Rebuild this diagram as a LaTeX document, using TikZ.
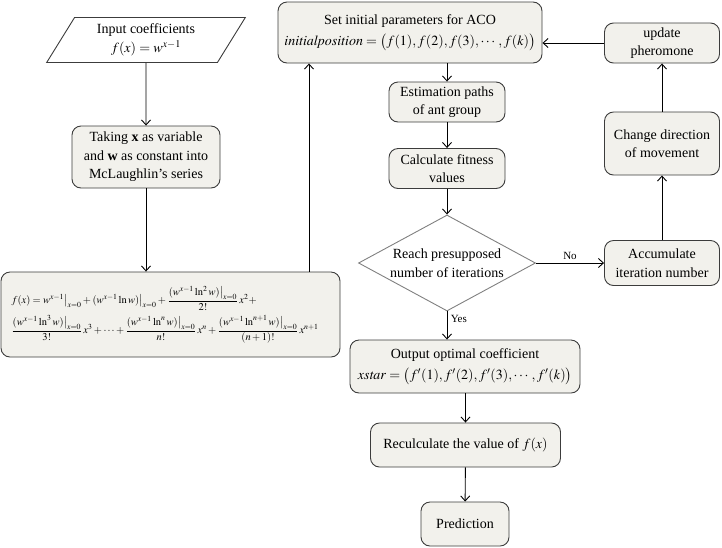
\documentclass[tikz,border=0pt]{standalone}
\usepackage{amsmath,amssymb}
\usepackage{mathptmx}
\usepackage{fontspec}
\setmainfont{Liberation Serif}
\usetikzlibrary{arrows.meta, shapes.geometric}
\definecolor{boxfill}{RGB}{242,241,236}
\definecolor{boxline}{RGB}{60,60,60}
\tikzstyle{block} = [rectangle, draw=boxline, fill=boxfill, line width=0.9pt,
    rounded corners=9pt, align=center, inner sep=2pt,
    font=\fontsize{14}{18.5}\selectfont]
\tikzstyle{decision} = [diamond, draw=gray, fill=white, line width=0.9pt, inner sep=0pt]

\begin{document}
\begin{tikzpicture}[
x=1pt, y=-1pt,
line/.style = {draw, line width=0.9pt, -{Straight Barb[length=5pt,width=9pt]}},
lab/.style = {font=\fontsize{11}{13}\selectfont}
                        ]
\useasboundingbox (0,0) rectangle (722,547);
\node (input) [trapezium, trapezium left angle=60, trapezium right angle=120,
  trapezium stretches=true, draw=boxline, fill=white, line width=0.9pt,
  minimum width=199pt, minimum height=45pt, inner sep=1pt, align=center,
  font=\fontsize{14}{18.5}\selectfont] at (146,40)
  {Input coefficients\\$f(x)=w^{x-1}$};
\node (taking) [block, minimum width=148pt, minimum height=62pt] at (146,157)
  {Taking \textbf{x} as variable\\and \textbf{w} as constant into\\McLaughlin's series};
\node (series) [block, minimum width=339pt, minimum height=85pt, align=left,
  text width=318pt, font=\fontsize{10.5}{13}\selectfont] at (170.5,314.5)
  {$f(x)=w^{x-1}\big|_{x=0}+(w^{x-1}\ln w)\big|_{x=0}+\dfrac{(w^{x-1}\ln^2 w)\big|_{x=0}}{2!}\,x^2+$\\[4pt]
   $\dfrac{(w^{x-1}\ln^3 w)\big|_{x=0}}{3!}\,x^3+\cdots+\dfrac{(w^{x-1}\ln^n w)\big|_{x=0}}{n!}\,x^n+\dfrac{(w^{x-1}\ln^{n+1} w)\big|_{x=0}}{(n+1)!}\,x^{n+1}$};
\node (setp) [block, minimum width=264pt, minimum height=61pt] at (410,32.5)
  {Set initial parameters for ACO\\[3pt]$\mathit{initialposition}=\bigl(f(1),f(2),f(3),\cdots,f(k)\bigr)$};
\node (update) [block, minimum width=115pt, minimum height=40pt] at (662,43)
  {update\\pheromone};
\node (est) [block, minimum width=116pt, minimum height=40pt] at (447,102)
  {Estimation paths\\of ant group};
\node (calc) [block, minimum width=116pt, minimum height=40pt] at (447,168.5)
  {Calculate fitness\\values};
\node (change) [block, minimum width=115pt, minimum height=63pt] at (662,143.5)
  {Change direction\\of movement};
\node (accum) [block, minimum width=115pt, minimum height=45pt] at (662,263)
  {Accumulate\\iteration number};
\node (reach) [decision, minimum width=177pt, minimum height=96pt,
  label={[align=center, font=\fontsize{14}{18.5}\selectfont]center:Reach presupposed\\number of iterations}]
  at (447,263) {};
\node (output) [block, minimum width=230pt, minimum height=53pt] at (465,366.5)
  {Output optimal coefficient\\[3pt]$\mathit{xstar}=\bigl(f'(1),f'(2),f'(3),\cdots,f'(k)\bigr)$};
\node (recalc) [block, minimum width=190pt, minimum height=44pt] at (465.5,445)
  {Reculculate the value of $f(x)$};
\node (predict) [block, minimum width=88pt, minimum height=44pt] at (465,524)
  {Prediction};
\coordinate (loopx) at (309,0);

\draw [line] (input) -- (taking);
\draw [line] (taking.south) -- (taking.south |- series.north);
\draw [line] (series.north -| loopx) -- (setp.south -| loopx);
\draw [line] (update.west) -- (update.west -| setp.east);
\draw [line] (est |- setp.south) -- (est.north);
\draw [line] (est) -- (calc);
\draw [line] (calc) -- (reach);
\draw [line] (reach) -- node[lab, above] {No} (accum);
\draw [line] (accum) -- (change);
\draw [line] (change) -- (update);
\draw [line] (reach.south) -- node[lab, right, pos=0.25] {Yes} (reach.south |- output.north);
\draw [line] (output.south -| recalc) -- (recalc);
\draw [line] (recalc) -- (predict);
\end{tikzpicture}
\end{document}
